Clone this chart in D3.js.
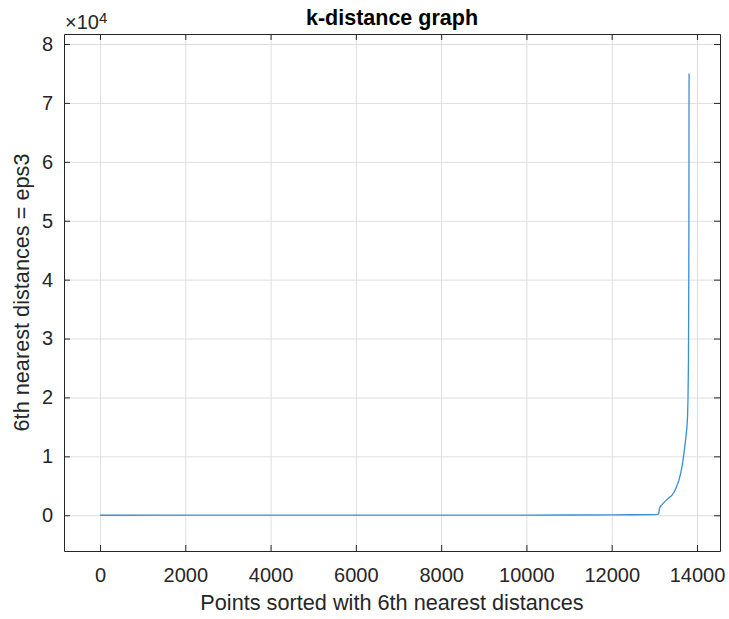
<!DOCTYPE html>
<html>
<head>
<meta charset="utf-8">
<script src="https://cdn.jsdelivr.net/npm/d3@7"></script>
<style>
  html, body { margin: 0; padding: 0; background: #ffffff; }
  svg { display: block; font-family: "Liberation Sans", Arial, Helvetica, sans-serif; }
</style>
</head>
<body>
<svg id="chart" width="729" height="619"></svg>
<script>
// Sorted 6th-nearest-neighbour distances (point index -> distance)
const pointIndex = [1, 2000, 4000, 6000, 8000, 10000, 11000, 12000, 12500, 12900, 13050, 13100,
  13120, 13135, 13180, 13250, 13330, 13410, 13470, 13525, 13575, 13620, 13655, 13685,
  13715, 13742, 13765, 13780, 13790, 13800, 13808, 13812, 13815];
const distance = [0, 5, 10, 15, 22, 30, 40, 60, 80, 110, 150, 200,
  1100, 1450, 1800, 2350, 2900, 3350, 4000, 4900, 5900, 7200, 8500, 10000,
  11700, 13400, 15000, 17000, 20000, 26000, 40000, 58000, 75000];

const xTicks = [0, 2000, 4000, 6000, 8000, 10000, 12000, 14000];
const yTicks = [0, 10000, 20000, 30000, 40000, 50000, 60000, 70000, 80000];
const yTickLabels = ["0", "1", "2", "3", "4", "5", "6", "7", "8"];

const titleText = "k-distance graph";
const xLabelText = "Points sorted with 6th nearest distances";
const yLabelText = "6th nearest distances = eps3";

const svg = d3.select("#chart");
const plotLeft = 64, plotRight = 720, plotTop = 34, plotBottom = 551;
const axisColor = "#262626";
const gridColor = "#dedede";

const x = d3.scaleLinear().domain([-845, 14540]).range([plotLeft, plotRight]);
const y = d3.scaleLinear().domain([-6070, 81700]).range([plotBottom, plotTop]);

// grid lines
svg.append("g")
  .attr("transform", `translate(0,${plotBottom})`)
  .call(d3.axisBottom(x).tickValues(xTicks).tickSize(-(plotBottom - plotTop)).tickFormat(""))
  .call(g => g.select(".domain").remove())
  .call(g => g.selectAll("line").attr("stroke", gridColor));
svg.append("g")
  .attr("transform", `translate(${plotLeft},0)`)
  .call(d3.axisLeft(y).tickValues(yTicks).tickSize(-(plotRight - plotLeft)).tickFormat(""))
  .call(g => g.select(".domain").remove())
  .call(g => g.selectAll("line").attr("stroke", gridColor));

// data line
const line = d3.line().x((d, i) => x(pointIndex[i])).y(d => y(d));
svg.append("path")
  .datum(distance)
  .attr("fill", "none")
  .attr("stroke", "#3a8fd3")
  .attr("stroke-width", 1.3)
  .attr("stroke-linejoin", "round")
  .attr("d", line);

function styleAxis(g) {
  g.select(".domain").attr("stroke", axisColor);
  g.selectAll(".tick line").attr("stroke", axisColor);
  g.selectAll(".tick text").attr("fill", axisColor).attr("font-size", 20);
}

// bottom axis
svg.append("g")
  .attr("transform", `translate(0,${plotBottom})`)
  .call(d3.axisBottom(x).tickValues(xTicks).tickSizeInner(-6).tickSizeOuter(0).tickPadding(17).tickFormat(d3.format("d")))
  .call(styleAxis);
// top axis
svg.append("g")
  .attr("transform", `translate(0,${plotTop})`)
  .call(d3.axisTop(x).tickValues(xTicks).tickSizeInner(-6).tickSizeOuter(0).tickFormat(""))
  .call(styleAxis);
// left axis
svg.append("g")
  .attr("transform", `translate(${plotLeft},0)`)
  .call(d3.axisLeft(y).tickValues(yTicks).tickSizeInner(-6).tickSizeOuter(0).tickPadding(11)
    .tickFormat((d, i) => yTickLabels[i]))
  .call(styleAxis);
// right axis
svg.append("g")
  .attr("transform", `translate(${plotRight},0)`)
  .call(d3.axisRight(y).tickValues(yTicks).tickSizeInner(-6).tickSizeOuter(0).tickFormat(""))
  .call(styleAxis);

// exponent label
const expo = svg.append("text")
  .attr("x", plotLeft + 1)
  .attr("y", 29)
  .attr("fill", axisColor)
  .attr("font-size", 20);
expo.append("tspan").text("\u00d710");
expo.append("tspan").attr("font-size", 15).attr("dy", -6).text("4");

// title
svg.append("text")
  .attr("x", (plotLeft + plotRight) / 2)
  .attr("y", 25)
  .attr("text-anchor", "middle")
  .attr("font-weight", "bold")
  .attr("font-size", 21.5)
  .attr("fill", "#000")
  .text(titleText);

// axis labels
svg.append("text")
  .attr("x", (plotLeft + plotRight) / 2)
  .attr("y", 610)
  .attr("text-anchor", "middle")
  .attr("font-size", 21.7)
  .attr("fill", axisColor)
  .text(xLabelText);
svg.append("text")
  .attr("transform", `translate(29,${(plotTop + plotBottom) / 2}) rotate(-90)`)
  .attr("text-anchor", "middle")
  .attr("font-size", 21.7)
  .attr("fill", axisColor)
  .text(yLabelText);
</script>
</body>
</html>
